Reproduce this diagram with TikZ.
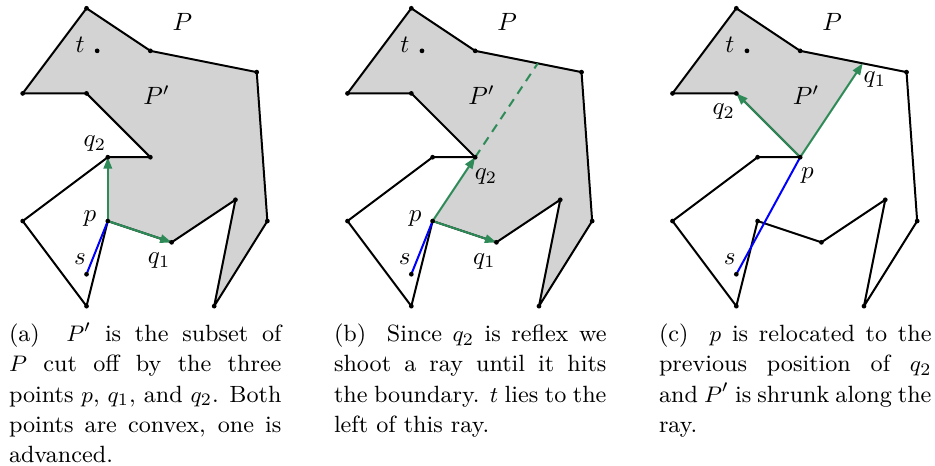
\documentclass[tikz,border=0pt]{standalone}
\usetikzlibrary{arrows.meta}
\definecolor{figgreen}{RGB}{46,139,87}
\definecolor{figgray}{RGB}{211,211,211}
\newcommand\polypts[1]{%
  \coordinate (#1A) at (3,0);
  \coordinate (#1B) at (6,2);
  \coordinate (#1C) at (11,3);
  \coordinate (#1D) at (11.5,10);
  \coordinate (#1E) at (9,14);
  \coordinate (#1F) at (10,9);
  \coordinate (#1G) at (7,11);
  \coordinate (#1H) at (4,10);
  \coordinate (#1I) at (3,14);
  \coordinate (#1J) at (0,10);
  \coordinate (#1K) at (4,7);
  \coordinate (#1L) at (6,7);
  \coordinate (#1M) at (3,4);
  \coordinate (#1N) at (0,4);
  \coordinate (#1S) at (3,12.5);
  \coordinate (#1T) at (3.5,2);
  \coordinate (#1X) at (8.941176,2.588235);
}
\newcommand\polyoutline[1]{%
  \draw[polyline] (#1A)--(#1B)--(#1C)--(#1D)--(#1E)--(#1F)--(#1G)--(#1H)--(#1I)--(#1J)--(#1K)--(#1L)--(#1M)--(#1N)--cycle;
}
\newcommand\polydots[1]{%
  \foreach \v in {A,B,C,D,E,F,G,H,I,J,K,L,M,N,S,T}{\fill (#1\v) circle[radius=0.95pt];}
}
\newcommand\labsep{\hskip 0.7em plus 0.3em\relax}
\begin{document}
\begin{tikzpicture}[x=0.4pt,y=-0.4pt,
  polyline/.style={line width=0.8pt,line join=round},
  pfill/.style={fill=figgray},
  greenarrow/.style={draw=figgreen,line width=0.8pt,-{Triangle[length=4.6pt,width=3.4pt]}},
  greendash/.style={draw=figgreen,line width=0.8pt,dash pattern=on 3.5pt off 2.6pt},
  bluepath/.style={draw=blue,line width=0.8pt},
  lbl/.style={inner sep=0pt},
  captext/.style={anchor=north west,inner sep=0pt,text width=109pt,align=justify,font=\fontsize{9.4}{12.1}\selectfont}]
\useasboundingbox (0,0) rectangle (935,466);

% ---------- panel (a)
\begin{scope}[shift={(22.7,8.3)},x=8.51pt,y=-8.51pt]
  \polypts{a}
  \fill[pfill] (aA)--(aB)--(aC)--(aD)--(aE)--(aF)--(aG)--(aH)--(aK)--(aL)--(aM)--(aN)--cycle;
  \polyoutline{a}
  \draw[bluepath] (aS)--(aH);
  \draw[greenarrow] (aH)--(aK);
  \draw[greenarrow] (aH)--(aG);
  \polydots{a}
  \node[lbl] (aP) at (7.5,0.63) {$P$};
  \node[lbl] (aPp) at (6.3,4.1) {$P'$};
  \node[lbl] (at) at (2.7,1.7) {$t$};
  \node[lbl] (aq2) at (3.39,6.35) {$q_2$};
  \node[lbl] (ap) at (3.16,9.87) {$p$};
  \node[lbl] (as) at (2.69,11.8) {$s$};
  \node[lbl] (aq1) at (6.41,11.85) {$q_1$};
\end{scope}

% ---------- panel (b)
\begin{scope}[shift={(347.5,8.3)},x=8.51pt,y=-8.51pt]
  \polypts{b}
  \fill[pfill] (bA)--(bB)--(bC)--(bD)--(bE)--(bF)--(bG)--(bH)--(bL)--(bM)--(bN)--cycle;
  \polyoutline{b}
  \draw[bluepath] (bS)--(bH);
  \draw[greendash] (bL)--(bX);
  \draw[greenarrow] (bH)--(bL);
  \draw[greenarrow] (bH)--(bG);
  \polydots{b}
  \node[lbl] (bP) at (7.5,0.63) {$P$};
  \node[lbl] (bPp) at (6.3,4.1) {$P'$};
  \node[lbl] (bt) at (2.7,1.7) {$t$};
  \node[lbl] (bq2) at (6.51,7.9) {$q_2$};
  \node[lbl] (bp) at (3.18,9.87) {$p$};
  \node[lbl] (bs) at (2.69,11.8) {$s$};
  \node[lbl] (bq1) at (6.43,11.88) {$q_1$};
\end{scope}

% ---------- panel (c)
\begin{scope}[shift={(672.5,8.3)},x=8.51pt,y=-8.51pt]
  \polypts{c}
  \fill[pfill] (cA)--(cB)--(cX)--(cL)--(cM)--(cN)--cycle;
  \polyoutline{c}
  \draw[bluepath] (cS)--(cL);
  \draw[greenarrow] (cL)--(cX);
  \draw[greenarrow] (cL)--(cM);
  \polydots{c}
  \node[lbl] (cP) at (7.5,0.63) {$P$};
  \node[lbl] (cPp) at (6.28,4.1) {$P'$};
  \node[lbl] (ct) at (2.7,1.7) {$t$};
  \node[lbl] (cq1) at (9.51,3.37) {$q_1$};
  \node[lbl] (cq2) at (2.41,4.86) {$q_2$};
  \node[lbl] (cp) at (6.34,7.87) {$p$};
  \node[lbl] (cs) at (2.69,11.8) {$s$};
\end{scope}

% ---------- captions
\node[captext] (capa) at (8.5,320) {\strut(a)\labsep $P'$ is the subset of\linebreak $P$ cut off by the three\linebreak points $p$, $q_1$, and $q_2$. Both\linebreak points are convex, one is\linebreak advanced.};
\node[captext] (capb) at (333.5,320) {\strut(b)\labsep Since $q_2$ is reflex we\linebreak shoot a ray until it hits\linebreak the boundary. $t$ lies to the\linebreak left of this ray.};
\node[captext] (capc) at (658.5,320) {\strut(c)\labsep $p$ is relocated to the\linebreak previous position of $q_2$\linebreak and $P'$ is shrunk along the\linebreak ray.};
\end{tikzpicture}
\end{document}
